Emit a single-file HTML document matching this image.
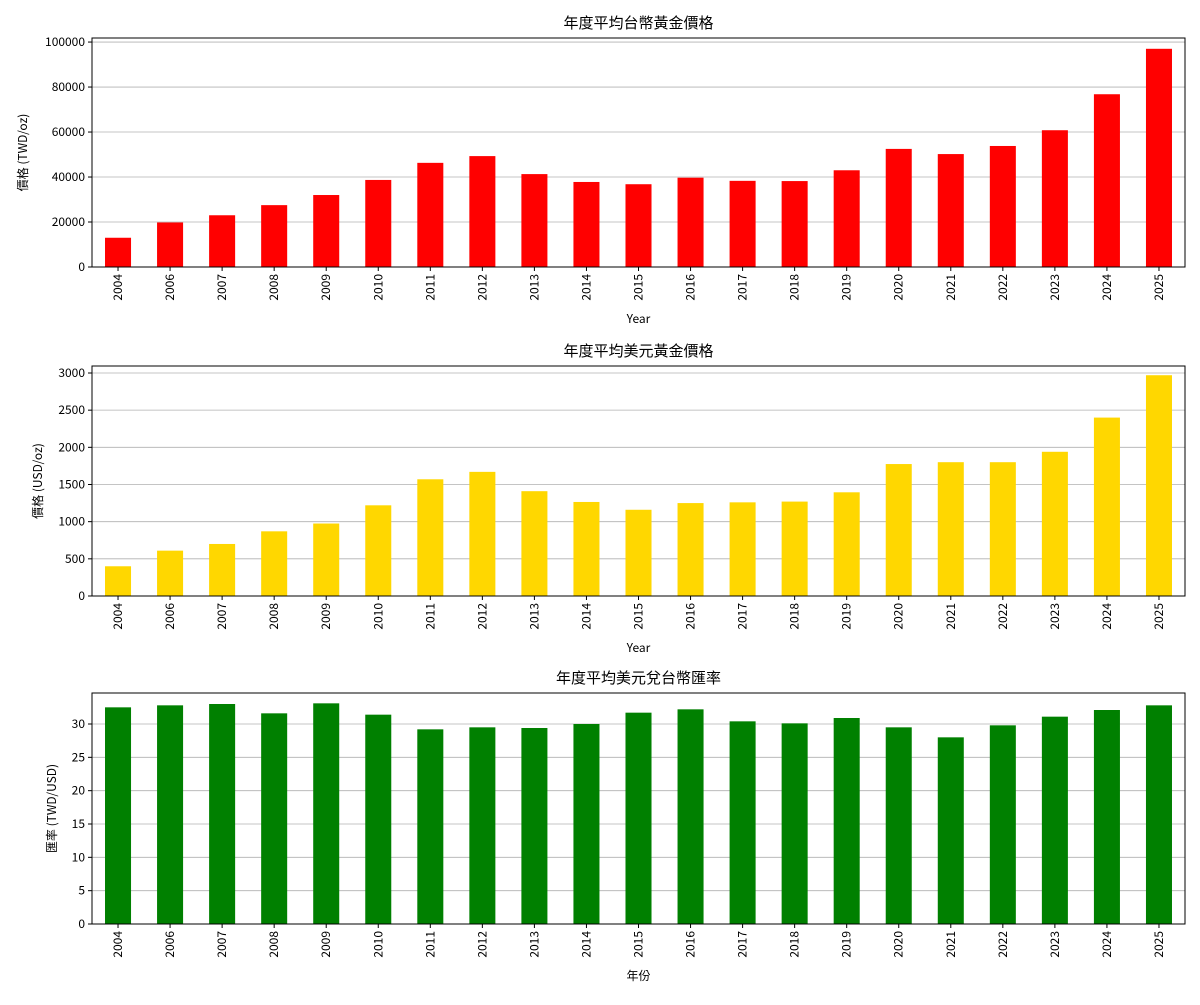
<!DOCTYPE html>
<html><head><meta charset="utf-8">
<style>
body{margin:0;background:#fff;}
svg text{font-family:"Noto Sans CJK TC","Liberation Sans",sans-serif;fill:#000;}
</style></head>
<body>
<svg id="chart" width="1200" height="1000" xmlns="http://www.w3.org/2000/svg"></svg>
<script>
const years = ["2004","2006","2007","2008","2009","2010","2011","2012","2013","2014","2015","2016","2017","2018","2019","2020","2021","2022","2023","2024","2025"];
const twdPrice = [13000,19800,23000,27500,32000,38700,46300,49300,41300,37800,36800,39700,38300,38200,43000,52500,50200,53800,60800,76800,97000];
const usdPrice = [400,610,700,870,975,1220,1570,1670,1410,1265,1160,1250,1260,1270,1395,1775,1800,1800,1940,2400,2970];
const fxRate = [32.5,32.8,33.0,31.6,33.1,31.4,29.2,29.5,29.4,30.0,31.7,32.2,30.4,30.1,30.9,29.5,28.0,29.8,31.1,32.1,32.8];
const twdTicks = [0,20000,40000,60000,80000,100000];
const usdTicks = [0,500,1000,1500,2000,2500,3000];
const fxTicks = [0,5,10,15,20,25,30];

const svg = document.getElementById('chart');
const NS = 'http://www.w3.org/2000/svg';
function mk(tag, attrs, parent){const e=document.createElementNS(NS,tag);for(const k in attrs)e.setAttribute(k,attrs[k]);(parent||svg).appendChild(e);return e;}

function panel(key, cfg){
  const g = mk('g',{});
  
  
  const L=92,R=1185,T=cfg.top,B=cfg.bottom;
  const x = i => L + (i+0.5)*(R-L)/years.length;
  const y = v => B - v/cfg.ymax*(B-T);
  const bw = 0.5*(R-L)/years.length;
  cfg.ticks.forEach(t=>{
    const gl = mk('line',{x1:L,x2:R,y1:y(t),y2:y(t),stroke:'#b0b0b0','stroke-width':0.8},g);
    
    
    mk('line',{x1:L-4,x2:L,y1:y(t),y2:y(t),stroke:'#000'},g);
    const tl = mk('text',{x:L-7,y:y(t)+4,'text-anchor':'end','font-size':12},g);
    tl.textContent=t;
    
    
  });
  cfg.values.forEach((v,i)=>{
    const r = mk('rect',{x:x(i)-bw/2,y:y(v),width:bw,height:B-y(v),fill:cfg.color},g);
    
    
    mk('line',{x1:x(i),x2:x(i),y1:B,y2:B+4,stroke:'#000'},g);
    const tl = mk('text',{x:0,y:0,'text-anchor':'end','font-size':12,transform:`translate(${x(i)+4},${B+7}) rotate(-90)`},g);
    tl.textContent=years[i];
    
    
  });
  const fr = mk('rect',{x:L,y:T,width:R-L,height:B-T,fill:'none',stroke:'#000','stroke-width':1},g);
  
  
  const ti = mk('text',{x:(L+R)/2,y:T-10,'text-anchor':'middle','font-size':15},g);
  ti.textContent=cfg.title;
  
  
  const xl = mk('text',{x:(L+R)/2,y:B+56,'text-anchor':'middle','font-size':12},g);
  xl.textContent=cfg.xlabel;
  
  
  const yl = mk('text',{x:0,y:0,'text-anchor':'middle','font-size':12,transform:`translate(${cfg.ylx},${(T+B)/2}) rotate(-90)`},g);
  yl.textContent=cfg.ylabel;
  
  
}
panel('twd',{top:38,bottom:267,ymax:101800,ticks:twdTicks,values:twdPrice,color:'#ff0000',title:'年度平均台幣黃金價格',xlabel:'Year',ylabel:'價格 (TWD/oz)',ylx:27});
panel('usd',{top:366,bottom:596,ymax:3094,ticks:usdTicks,values:usdPrice,color:'#ffd700',title:'年度平均美元黃金價格',xlabel:'Year',ylabel:'價格 (USD/oz)',ylx:42});
panel('fx',{top:693,bottom:924,ymax:34.65,ticks:fxTicks,values:fxRate,color:'#008000',title:'年度平均美元兌台幣匯率',xlabel:'年份',ylabel:'匯率 (TWD/USD)',ylx:56});
</script>
</body></html>
